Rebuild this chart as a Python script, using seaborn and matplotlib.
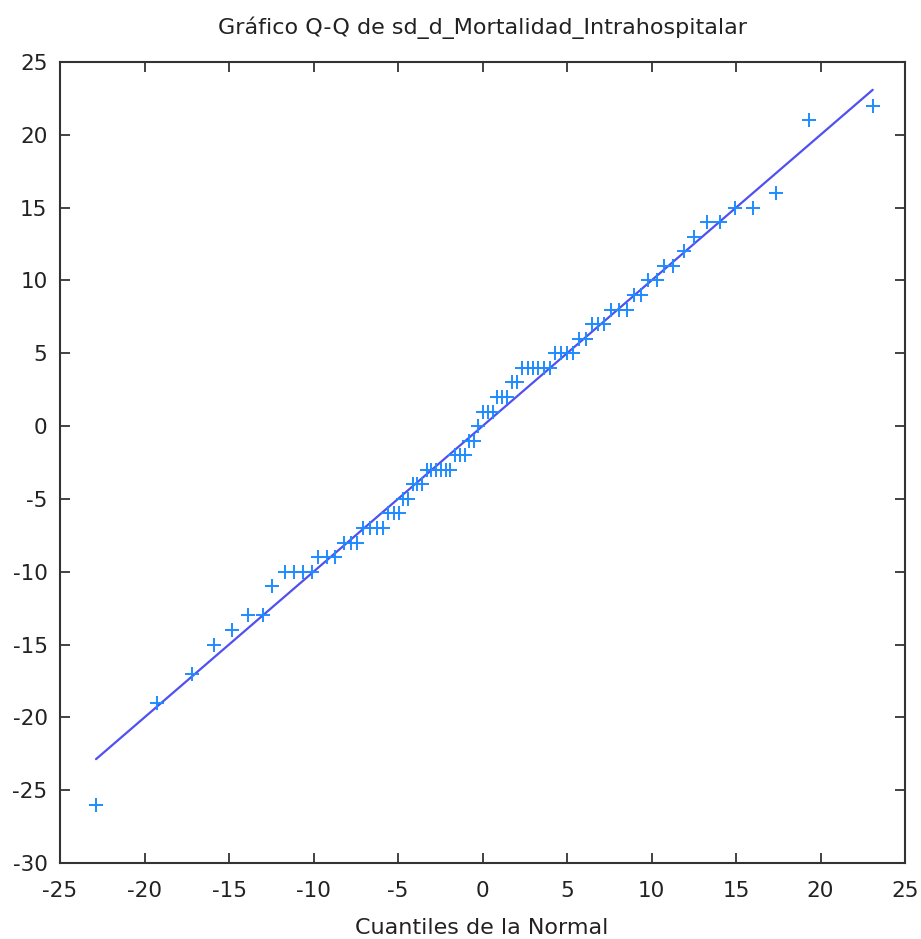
import matplotlib
matplotlib.use("Agg")
import matplotlib.pyplot as plt
import seaborn as sns
import numpy as np
import pandas as pd

normal_quantiles = [
    -22.87, -19.28, -17.2, -15.89, -14.82, -13.86, -13.0, -12.44,
    -11.7, -11.15, -10.62, -10.1,
    -9.72, -9.22, -8.7,
    -8.2, -7.8, -7.4,
    -7.05, -6.66, -6.26, -5.9,
    -5.57, -5.25, -4.95,
    -4.7, -4.4,
    -4.12, -3.85, -3.57,
    -3.3, -3.02, -2.74, -2.46, -2.18, -1.9,
    -1.62, -1.34, -1.06,
    -0.8, -0.52,
    -0.25,
    0.03, 0.31, 0.6,
    0.88, 1.16, 1.45,
    1.75, 2.05,
    2.35, 2.67, 2.98, 3.3, 3.63, 3.97,
    4.3, 4.65, 5.0, 5.35,
    5.72, 6.1,
    6.45, 6.82, 7.2,
    7.58, 8.05, 8.53,
    8.95, 9.35,
    9.8, 10.3,
    10.75, 11.25,
    11.92, 12.51,
    13.27, 14.05,
    14.94, 16.03,
    17.38, 19.32, 23.09,
]
observed = [
    -26, -19, -17, -15, -14, -13, -13, -11,
    -10, -10, -10, -10,
    -9, -9, -9,
    -8, -8, -8,
    -7, -7, -7, -7,
    -6, -6, -6,
    -5, -5,
    -4, -4, -4,
    -3, -3, -3, -3, -3, -3,
    -2, -2, -2,
    -1, -1,
    0,
    1, 1, 1,
    2, 2, 2,
    3, 3,
    4, 4, 4, 4, 4, 4,
    5, 5, 5, 5,
    6, 6,
    7, 7, 7,
    8, 8, 8,
    9, 9,
    10, 10,
    11, 11,
    12, 13,
    14, 14,
    15, 15,
    16, 21, 22,
]

title = "Gráfico Q-Q de sd_d_Mortalidad_Intrahospitalar"
xlabel = "Cuantiles de la Normal"
xticks = [-25, -20, -15, -10, -5, 0, 5, 10, 15, 20, 25]
yticks = [-30, -25, -20, -15, -10, -5, 0, 5, 10, 15, 20, 25]

df = pd.DataFrame({"q": normal_quantiles, "y": observed})
line_df = pd.DataFrame({"x": [min(normal_quantiles), max(normal_quantiles)],
                        "y": [min(normal_quantiles), max(normal_quantiles)]})

sns.set_theme(style="white")
plt.rcParams["font.family"] = ["DejaVu Sans"]

fig = plt.figure(figsize=(9.21, 9.39), dpi=100)
ax = fig.add_axes([60/921, 1-863/939, (905-60)/921, (863-62)/939])

sns.lineplot(data=line_df, x="x", y="y", ax=ax, color="#5050f0", linewidth=1.6,
             zorder=2, legend=False)
sns.scatterplot(data=df, x="q", y="y", ax=ax, marker="+", s=110, color="#1e8cff",
                linewidth=1.4, zorder=3, legend=False)

ax.set_xlim(-25, 25)
ax.set_ylim(-30, 25)
ax.set_xticks(xticks)
ax.set_yticks(yticks)
ax.set_xticklabels([str(t) for t in xticks])
ax.set_yticklabels([str(t) for t in yticks])
ax.set_xlabel("")
ax.set_ylabel("")
ax.tick_params(direction="in", length=7, width=1.2, color="#222222",
               top=True, right=True, labelsize=15.5, colors="#222222",
               bottom=True, left=True)
ax.tick_params(axis="x", pad=13)
ax.tick_params(axis="y", pad=9)
for s in ax.spines.values():
    s.set_color("#333333")
    s.set_linewidth(1.5)

fig.text(482/921, 1-28/939, title, ha="center", va="center", fontsize=16, color="#222222")
fig.text(482/921, 1-928/939, xlabel, ha="center", va="center", fontsize=16, color="#222222")

fig.savefig("out.png", dpi=100)
